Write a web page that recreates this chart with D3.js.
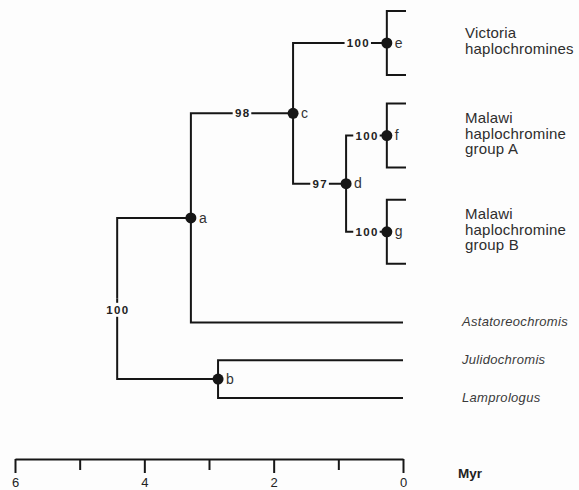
<!DOCTYPE html>
<html>
<head>
<meta charset="utf-8">
<script src="https://cdn.jsdelivr.net/npm/d3@7"></script>
<style>
  body { margin: 0; background: #fdfdfd; }
  svg { display: block; font-family: "Liberation Sans", Arial, sans-serif; }
</style>
</head>
<body>
<div class="chart"></div>
<script>
const WIDTH = 579;
const HEIGHT = 490;
const BG = '#fdfdfd';
const INK = '#161616';

// internal nodes of the tree (age in Myr)
const nodeIds     = ['root', 'a', 'b', 'c', 'd', 'e', 'f', 'g'];
const nodeParents = ['', 'root', 'root', 'a', 'c', 'c', 'd', 'd'];
const nodeAges    = [4.42, 3.28, 2.86, 1.70, 0.88, 0.25, 0.25, 0.25];
const nodeLetters = ['', 'a', 'b', 'c', 'd', 'e', 'f', 'g'];
const support     = [100, null, null, 98, 97, 100, 100, 100];

// single taxa at the tips (age 0)
const taxa        = ['Astatoreochromis', 'Julidochromis', 'Lamprologus'];
const taxaParents = ['a', 'b', 'b'];

// collapsed clades drawn as brackets
const cladeNodes  = ['e', 'f', 'g'];
const cladeLabels = [
  ['Victoria', 'haplochromines'],
  ['Malawi', 'haplochromine', 'group A'],
  ['Malawi', 'haplochromine', 'group B']
];

// top to bottom order of the tips, in row units
const leafOrder = ['e', 'f', 'g', 'Astatoreochromis', 'Julidochromis', 'Lamprologus'];
const leafRows  = [0, 2.45, 5, 7.4, 8.4, 9.4];

const axisTicks  = [6, 5, 4, 3, 2, 1, 0];
const axisLabels = [6, 4, 2, 0];
const axisTitle  = 'Myr';

var xScale = d3.scaleLinear().domain([6, 0]).range([15, 403]);
var yScale = d3.scaleLinear().domain([0, 9.4]).range([43, 398]);

var translate = function (x, y) {
  return 'translate(' + x + ',' + y + ')';
};

// build the table for stratify
var table = nodeIds.map(function (id, i) {
  return { id: id, parent: nodeParents[i] || null, age: nodeAges[i],
           letter: nodeLetters[i], support: support[i], taxon: false };
});
taxa.forEach(function (t, i) {
  table.push({ id: t, parent: taxaParents[i], age: 0, letter: '', support: null, taxon: true });
});

var root = d3.stratify()
  .id(function (d) { return d.id; })
  .parentId(function (d) { return d.parent; })(table);

// tips get their row, inner nodes sit midway between their children
root.eachAfter(function (n) {
  var k = leafOrder.indexOf(n.id);
  if (k >= 0) n.yPos = yScale(leafRows[k]);
  else n.yPos = d3.mean(n.children, function (c) { return c.yPos; });
  n.xPos = xScale(n.data.age);
});

var svg = d3.select('.chart').append('svg')
  .attr('width', WIDTH)
  .attr('height', HEIGHT);

svg.append('rect').attr('width', WIDTH).attr('height', HEIGHT).attr('fill', BG);

var tree = svg.append('g');

// elbow branches
tree.selectAll('.branch')
  .data(root.descendants().filter(function (n) { return n.parent; }))
  .enter().append('path')
  .attr('fill', 'none')
  .attr('stroke', INK)
  .attr('stroke-width', 2)
  .attr('d', function (n) {
    return 'M' + n.parent.xPos + ',' + n.parent.yPos + 'V' + n.yPos + 'H' + n.xPos;
  });

// brackets for collapsed clades
cladeNodes.forEach(function (id, i) {
  var n = root.find(function (d) { return d.id === id; });
  var h = 32;
  tree.append('path')
    .attr('fill', 'none')
    .attr('stroke', INK)
    .attr('stroke-width', 2)
    .attr('d', 'M' + (xScale(0) + 3) + ',' + (n.yPos - h) + 'H' + n.xPos +
               'V' + (n.yPos + h) + 'H' + (xScale(0) + 3));

  var lines = cladeLabels[i];
  var lh = 15.5;
  var top = n.yPos - (lines.length - 1) * lh / 2 + 3;
  var t = tree.append('text')
    .attr('x', 465)
    .attr('fill', '#2e2e2e')
    .style('font-size', '15px')
    .style('letter-spacing', '0.2px');
  lines.forEach(function (s, j) {
    t.append('tspan').attr('x', 465).attr('y', top + j * lh).text(s);
  });
});

// bootstrap values, knocked out of the branch lines
var boot = tree.append('g')
  .style('font-size', '11.5px')
  .style('font-weight', 'bold')
  .style('letter-spacing', '1.4px');

root.descendants().filter(function (n) { return n.data.support != null; }).forEach(function (n) {
  var bx, by;
  if (!n.parent) {
    // root value sits on its vertical line
    var ys = n.children.map(function (c) { return c.yPos; });
    bx = n.xPos;
    by = d3.min(ys) + 0.57 * (d3.max(ys) - d3.min(ys));
  } else {
    var frac = n.id === 'e' ? 0.69 : 0.5;
    bx = n.parent.xPos + frac * (n.xPos - n.parent.xPos);
    by = n.yPos;
  }
  var txt = String(n.data.support);
  var w = txt.length * 7.8;
  boot.append('rect')
    .attr('x', bx - w / 2 - 1.5).attr('y', by - 7)
    .attr('width', w + 3).attr('height', 14)
    .attr('fill', BG);
  boot.append('text')
    .attr('x', bx + 0.7).attr('y', by)
    .attr('dy', '0.36em')
    .attr('text-anchor', 'middle')
    .attr('fill', '#222')
    .text(txt);
});

// node dots and letters
var dotted = root.descendants().filter(function (n) { return n.data.letter; });
tree.selectAll('.dot')
  .data(dotted)
  .enter().append('circle')
  .attr('cx', function (n) { return n.xPos; })
  .attr('cy', function (n) { return n.yPos; })
  .attr('r', 5.5)
  .attr('fill', INK);

tree.selectAll('.letter')
  .data(dotted)
  .enter().append('text')
  .attr('x', function (n) { return n.xPos + 8; })
  .attr('y', function (n) { return n.yPos; })
  .attr('dy', '0.33em')
  .attr('fill', '#333')
  .style('font-size', '14px')
  .text(function (n) { return n.data.letter; });

// taxon names
tree.selectAll('.taxon')
  .data(root.leaves().filter(function (n) { return n.data.taxon; }))
  .enter().append('text')
  .attr('x', 462)
  .attr('y', function (n) { return n.yPos - 1; })
  .attr('dy', '0.35em')
  .attr('fill', '#3a3a3a')
  .style('font-size', '13px')
  .style('font-style', 'italic')
  .style('letter-spacing', '0.3px')
  .text(function (n) { return n.id; });

// time axis
var xAxis = d3.axisBottom(xScale)
  .tickValues(axisTicks)
  .tickSize(14)
  .tickSizeOuter(0)
  .tickPadding(5)
  .tickFormat(function (d) { return axisLabels.indexOf(d) >= 0 ? d : ''; });

var axisG = svg.append('g')
  .attr('transform', translate(0, 459))
  .call(xAxis);

axisG.select('.domain').attr('stroke', INK).attr('stroke-width', 2);
axisG.selectAll('.tick line')
  .attr('stroke', INK)
  .attr('stroke-width', 2)
  .attr('y2', function (d) { return axisLabels.indexOf(d) >= 0 ? 14 : 11; });
axisG.selectAll('.tick text')
  .attr('fill', '#222')
  .style('font-size', '13px')
  .style('font-family', '"Liberation Sans", Arial, sans-serif');

svg.append('text')
  .attr('x', 458)
  .attr('y', 478)
  .attr('fill', '#222')
  .style('font-size', '13.5px')
  .style('font-weight', 'bold')
  .text(axisTitle);
</script>
</body>
</html>
